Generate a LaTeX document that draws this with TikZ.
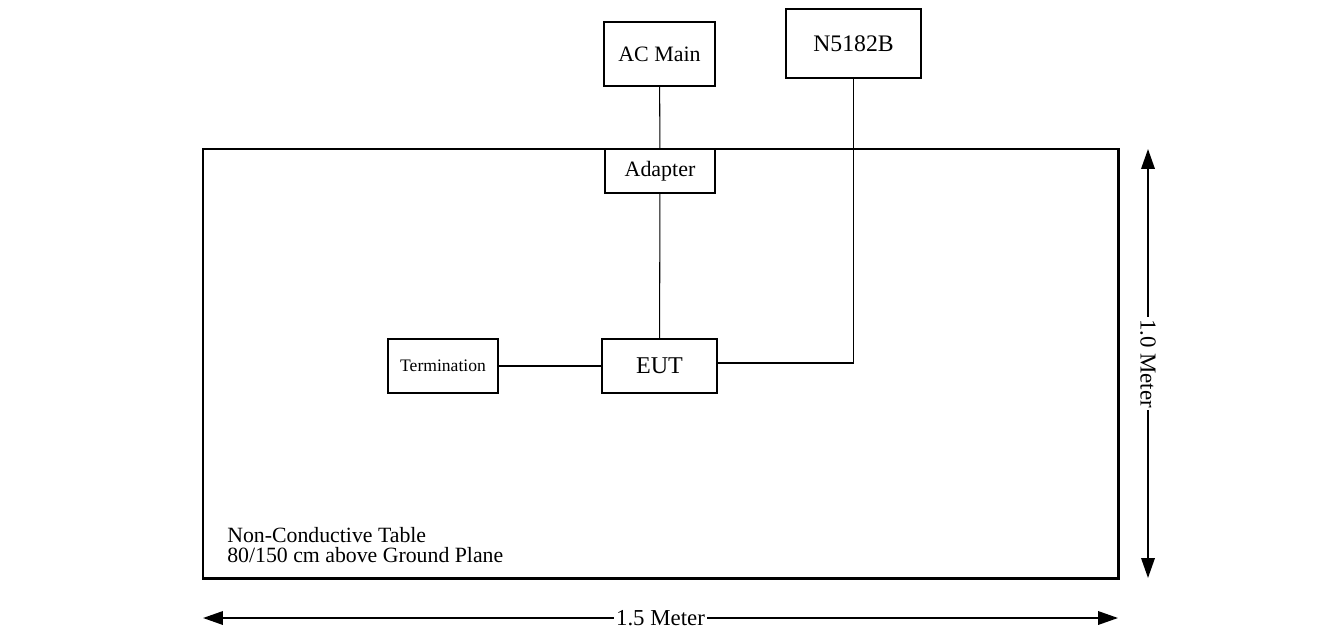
\documentclass[tikz,border=0pt]{standalone}
\usepackage{fontspec}
\setmainfont{Liberation Serif}
\usetikzlibrary{positioning, arrows.meta}

\begin{document}
\begin{tikzpicture}[
    x=0.02cm, y=-0.02cm,
    unit/.style={rectangle, draw, line width=0.8pt, inner sep=0pt,
                 minimum width=2.2cm, minimum height=1.08cm,
                 font=\fontsize{12.5}{14}\selectfont},
    wire/.style={line width=0.6pt},
    dimline/.style={line width=1.1pt,
                    {Triangle[length=0.4cm,width=0.27cm]}-{Triangle[length=0.4cm,width=0.27cm]}},
    dimlabel/.style={fill=white, inner sep=1pt, font=\fontsize{13}{15}\selectfont},
  ]
    \useasboundingbox (0,0) rectangle (1331,635);

    % the table
    \coordinate (T-nw) at (203,149);
    \coordinate (T-se) at (1118,578);
    \draw[line width=1.7pt] (T-nw) rectangle (T-se);
    \node[anchor=north west, align=left, inner sep=0pt,
          font=\fontsize{12.4}{11.2}\selectfont] (tabletext) at (227,527) {
      Non-Conductive Table\\80/150 cm above Ground Plane
    };

    \node[unit, minimum width=2.22cm, minimum height=1.28cm] (acmain) at (659.5,54) {AC Main};
    \node[unit, minimum width=2.7cm, minimum height=1.38cm,
          font=\fontsize{13.5}{15}\selectfont] (siggen) at (853.5,43.5) {N5182B};
    \node[unit, minimum height=0.88cm] (adapter) at (660,171) {Adapter};
    \node[unit, minimum width=2.3cm, font=\fontsize{13.7}{15}\selectfont] (eut) at (659.5,366) {EUT};
    \node[unit, font=\fontsize{10}{12}\selectfont] (term) at (443,366) {Termination};

    \draw[wire] (acmain) -- (adapter);
    \draw[wire] (adapter) -- (eut);
    \draw[wire] (term) -- (eut);
    \draw[wire] (siggen.south) |- ([yshift=0.06cm]eut.east);

    % dimensions
    \coordinate (H-w) at (203,618);
    \coordinate (H-e) at (1118,618);
    \draw[dimline] (H-w) -- node[dimlabel] (hlen) {1.5 Meter} (H-e);
    \coordinate (V-n) at (1148,149);
    \coordinate (V-s) at (1148,578);
    \draw[dimline] (V-n) -- node[dimlabel, rotate=-90] (vlen) {1.0 Meter} (V-s);
  \end{tikzpicture}
\end{document}
